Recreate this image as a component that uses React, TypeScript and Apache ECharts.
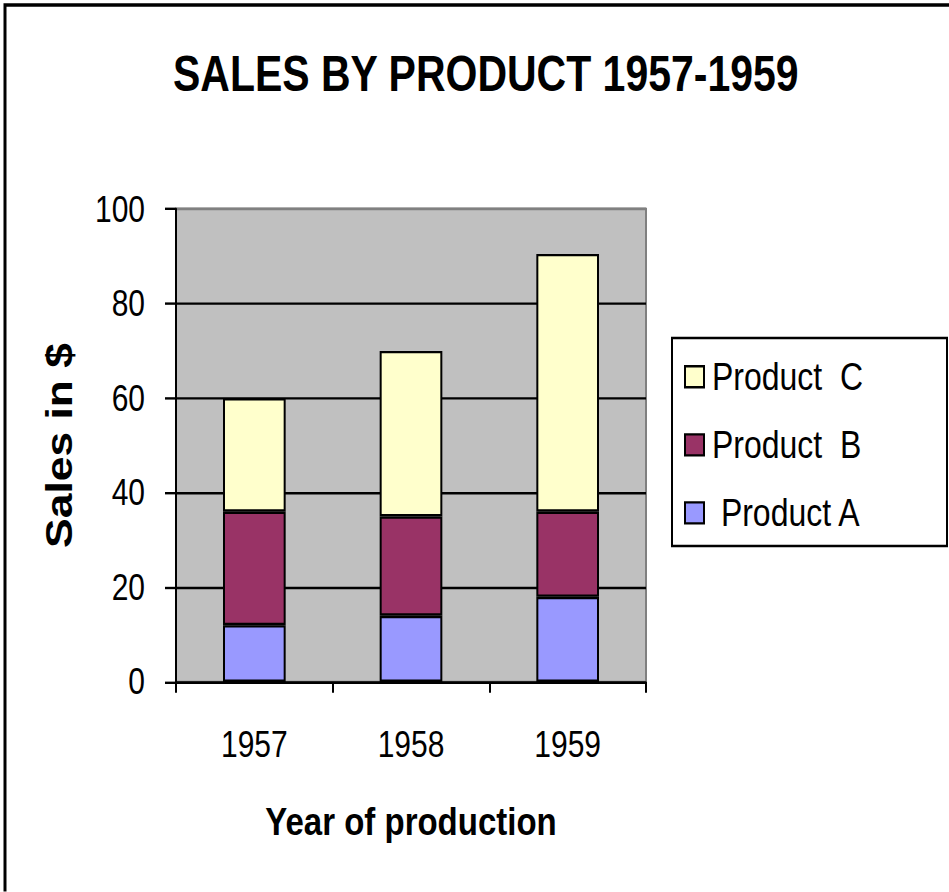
import React, { useEffect, useRef } from "react";
import * as echarts from "echarts";

const years = ["1957", "1958", "1959"];
const productA = [12, 14, 18];
const productB = [24, 21, 18];
const productC = [24, 35, 54.5];
const seriesNames = [" Product A", "Product  B", "Product  C"];
const yTicks = { min: 0, max: 100, interval: 20 };

const SANS = "'Liberation Sans', Arial, sans-serif";
// the reference is drawn tall and narrow: render at reduced height and stretch vertically
const STRETCH = 1.2;
const W = 949;
const H = 892 / STRETCH;

export default function App() {
  const ref = useRef<HTMLDivElement>(null);
  useEffect(() => {
    if (!ref.current) return;
    const chart = echarts.init(ref.current, undefined, { renderer: "svg", width: W, height: H });
    const barStyle = (color: string) => ({
      color,
      borderColor: "#000",
      borderWidth: 2,
    });
    chart.setOption({
      animation: false,
      backgroundColor: "#fff",
      title: {
        text: "SALES BY PRODUCT 1957-1959",
        left: 173,
        top: 41,
        padding: 0,
        textStyle: { fontFamily: SANS, fontWeight: "bold", fontSize: 41, color: "#000" },
      },
      legend: {
        orient: "vertical",
        left: 679,
        top: 293,
        itemWidth: 19,
        itemHeight: 17.5,
        itemGap: 24.7,
        data: [seriesNames[2], seriesNames[1], seriesNames[0]],
        icon: "rect",
        textStyle: { fontFamily: SANS, fontSize: 32, color: "#000", lineHeight: 32, padding: [0, 0, 0, 3] },
        itemStyle: { borderColor: "#000", borderWidth: 2 },
      },
      grid: {
        left: 176,
        right: 303,
        top: 174.2,
        bottom: H - 568.3,
        show: true,
        backgroundColor: "#C0C0C0",
        borderColor: "#808080",
        borderWidth: 2,
      },
      xAxis: {
        type: "category",
        data: years,
        name: "Year of production",
        nameLocation: "middle",
        nameGap: 100,
        nameTextStyle: { fontFamily: SANS, fontWeight: "bold", fontSize: 33, color: "#000" },
        axisLine: { lineStyle: { color: "#000", width: 2 } },
        axisTick: { show: true, inside: false, length: 9, lineStyle: { color: "#000", width: 2 } },
        axisLabel: { fontFamily: SANS, fontSize: 30, color: "#000", margin: 37 },
      },
      yAxis: {
        type: "value",
        min: yTicks.min,
        max: yTicks.max,
        interval: yTicks.interval,
        name: "Sales in $",
        nameLocation: "middle",
        nameGap: 98,
        nameRotate: 90,
        nameTextStyle: { fontFamily: SANS, fontWeight: "bold", fontSize: 37, color: "#000" },
        axisLine: { show: true, lineStyle: { color: "#000", width: 2 } },
        axisTick: { show: true, inside: false, length: 11, lineStyle: { color: "#000", width: 2 } },
        axisLabel: { fontFamily: SANS, fontSize: 30, color: "#000", margin: 31 },
        splitLine: {
          show: true,
          lineStyle: { color: ["#000", "#000", "#000", "#000", "#000", "#808080"], width: 2 },
        },
      },
      series: [
        { name: seriesNames[0], type: "bar", stack: "s", data: productA, barWidth: "40%", itemStyle: barStyle("#9999FF") },
        { name: seriesNames[1], type: "bar", stack: "s", data: productB, barWidth: "40%", itemStyle: barStyle("#993366") },
        { name: seriesNames[2], type: "bar", stack: "s", data: productC, barWidth: "40%", itemStyle: barStyle("#FFFFCC") },
      ],
      graphic: [
        {
          type: "rect",
          shape: { x: 5, y: 4.2, width: 980, height: 800 },
          style: { fill: "none", stroke: "#000", lineWidth: 3 },
          silent: true,
        },
        {
          type: "rect",
          shape: { x: 672, y: 281.7, width: 275, height: 173.3 },
          style: { fill: "none", stroke: "#000", lineWidth: 2 },
          silent: true,
        },
      ],
    });
    return () => chart.dispose();
  }, []);
  return (
    <div
      style={{ position: "fixed", left: 0, top: 0, width: W, height: 892, overflow: "hidden", background: "#fff" }}
    >
      <div
        ref={ref}
        style={{ width: W, height: H, transform: `scaleY(${STRETCH})`, transformOrigin: "0 0" }}
      />
    </div>
  );
}
